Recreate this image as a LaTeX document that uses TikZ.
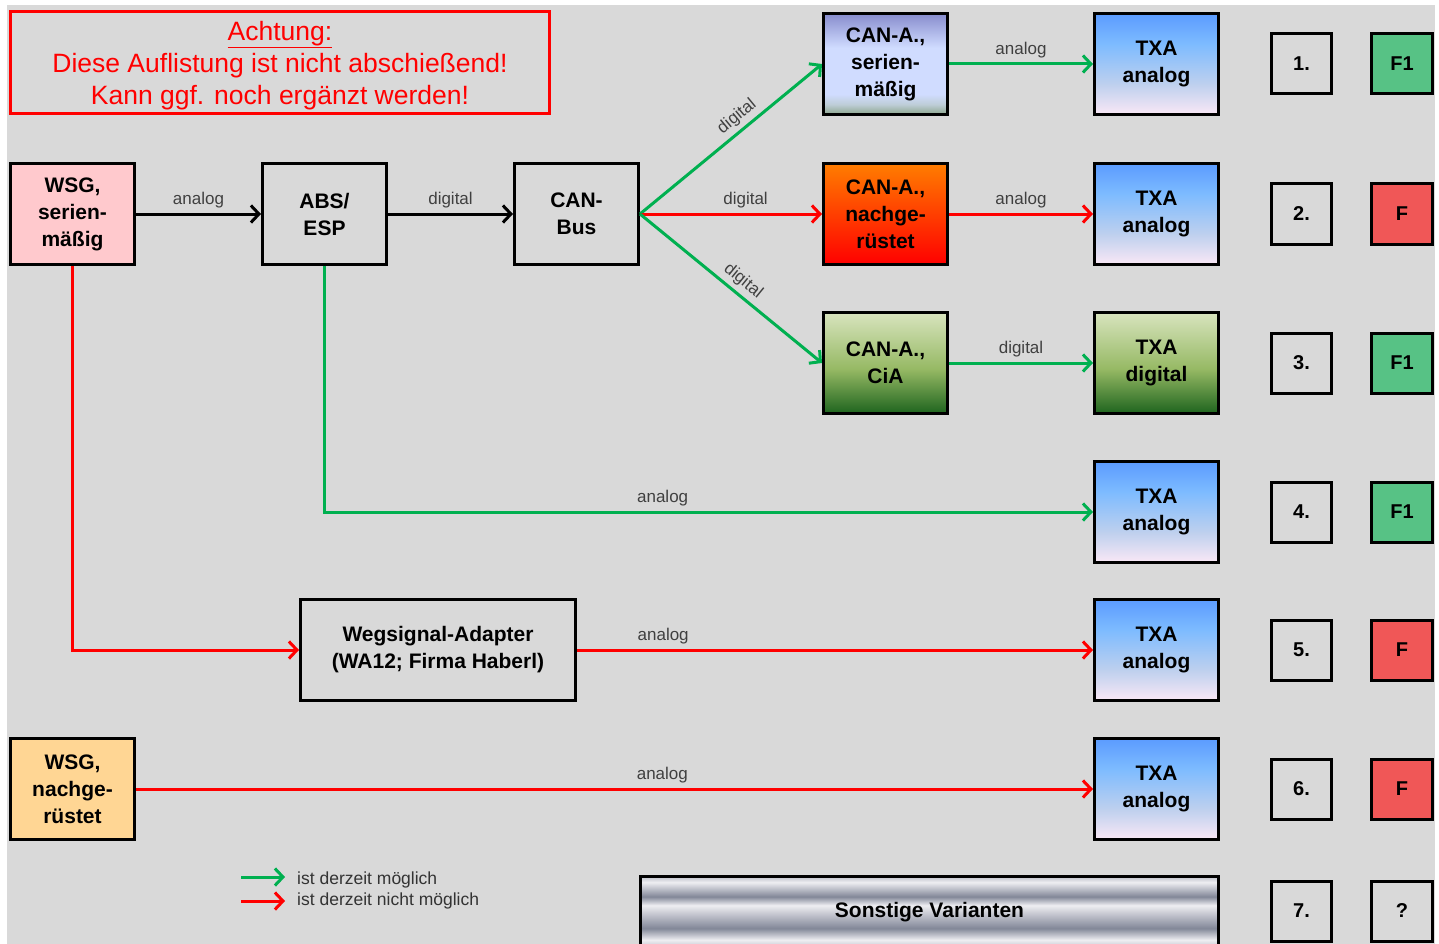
\documentclass[tikz,border=0pt]{standalone}
\usepackage{fontspec}
\setmainfont{Liberation Sans}
\usetikzlibrary{positioning,arrows.meta,calc}

\definecolor{bgGray}{RGB}{217,217,217}
\definecolor{okGreen}{RGB}{0,176,80}
\definecolor{noRed}{RGB}{255,0,0}
\definecolor{labelGray}{RGB}{64,64,64}
\definecolor{wsgPink}{RGB}{255,201,205}
\definecolor{wsgOrange}{RGB}{255,214,148}
\definecolor{fGreen}{RGB}{87,194,133}
\definecolor{fRed}{RGB}{240,87,87}

% shading colours
\definecolor{txaTop}{RGB}{91,155,255}
\definecolor{txaMid}{RGB}{125,187,255}
\definecolor{txaLow}{RGB}{190,208,238}
\definecolor{txaBot}{RGB}{250,232,246}
\definecolor{serTop}{RGB}{135,140,205}
\definecolor{serMid}{RGB}{208,220,255}
\definecolor{serLow}{RGB}{190,205,215}
\definecolor{serBot}{RGB}{140,165,140}
\definecolor{nachTop}{RGB}{255,125,0}
\definecolor{nachBot}{RGB}{255,0,0}
\definecolor{ciaTop}{RGB}{216,228,190}
\definecolor{ciaMid}{RGB}{150,185,100}
\definecolor{ciaBot}{RGB}{30,100,30}
\definecolor{metLight}{RGB}{238,238,242}
\definecolor{metMid}{RGB}{190,192,202}
\definecolor{metDark}{RGB}{130,135,152}

\pgfdeclareverticalshading{txaShade}{100bp}{color(0bp)=(txaBot); color(25bp)=(txaBot); color(40bp)=(txaLow); color(60bp)=(txaMid); color(75bp)=(txaTop); color(100bp)=(txaTop)}
\pgfdeclareverticalshading{serShade}{100bp}{color(0bp)=(serBot); color(25bp)=(serBot); color(30bp)=(serLow); color(35bp)=(serMid); color(58bp)=(serMid); color(75bp)=(serTop); color(100bp)=(serTop)}
\pgfdeclareverticalshading{nachShade}{100bp}{color(0bp)=(nachBot); color(25bp)=(nachBot); color(75bp)=(nachTop); color(100bp)=(nachTop)}
\pgfdeclareverticalshading{ciaShade}{100bp}{color(0bp)=(ciaBot); color(25bp)=(ciaBot); color(47bp)=(ciaMid); color(75bp)=(ciaTop); color(100bp)=(ciaTop)}
\pgfdeclareverticalshading{metalShade}{100bp}{color(0bp)=(metMid); color(25bp)=(metMid); color(31bp)=(metLight); color(39bp)=(metDark); color(48bp)=(metMid); color(55bp)=(metLight); color(61bp)=(metDark); color(71bp)=(metLight); color(75bp)=(metMid); color(100bp)=(metMid)}

\begin{document}
\begin{tikzpicture}[
    x=1pt, y=-1pt,
    baseBox/.style={rectangle, draw=black, line width=3pt, minimum width=124pt, minimum height=101pt, inner sep=0pt, align=center, font=\fontsize{21}{27}\selectfont\bfseries, text=black},
    plainBox/.style={baseBox, fill=bgGray},
    txaBox/.style={baseBox, shading=txaShade},
    numBox/.style={rectangle, draw=black, line width=3pt, fill=bgGray, minimum size=60pt, inner sep=0pt, font=\fontsize{20}{24}\selectfont\bfseries},
    warnBox/.style={rectangle, draw=noRed, line width=3.5pt, fill=bgGray, minimum width=539pt, minimum height=102pt, align=center, font=\fontsize{26.5}{32}\selectfont, text=noRed},
    edgeLabel/.style={font=\fontsize{17}{20}\selectfont, text=labelGray, inner sep=4pt},
    legendText/.style={font=\fontsize{17.5}{20}\selectfont, text=black!80, anchor=west, inner sep=0pt},
    blackArrow/.style={-{Straight Barb[length=8pt,width=17pt]}, line width=3pt, draw=black},
    okArrow/.style={-{Straight Barb[length=8pt,width=17pt]}, line width=3pt, draw=okGreen},
    noArrow/.style={-{Straight Barb[length=8pt,width=17pt]}, line width=3pt, draw=noRed}
]

\useasboundingbox (0,0) rectangle (1439,944);
\fill[bgGray] (7,5) rectangle (1435,944);

% ================= WARNING =================
\node[warnBox] (warn) at (280,62.5) {\rule{0pt}{25pt}\underline{Achtung:}\\Diese Auflistung ist nicht abschießend!\\Kann ggf. noch ergänzt werden!};

% ================= SOURCE CHAIN =================
\node[plainBox, fill=wsgPink] (wsg) at (72.5,214) {WSG,\\serien-\\mäßig};
\node[plainBox, right=125pt of wsg] (abs) {ABS/\\ESP};
\node[plainBox, right=125pt of abs] (canbus) {CAN-\\Bus};

% ================= CAN ADAPTERS =================
\node[baseBox, shading=nachShade, right=182pt of canbus] (canNach) {CAN-A.,\\nachge-\\rüstet};
\node[baseBox, shading=serShade, above=46pt of canNach] (canSer) {CAN-A.,\\serien-\\mäßig};
\node[baseBox, shading=ciaShade, below=45pt of canNach] (canCia) {CAN-A.,\\CiA};

% ================= TXA COLUMN =================
\node[txaBox, right=144pt of canSer] (txa1) {TXA\\analog};
\node[txaBox, right=144pt of canNach] (txa2) {TXA\\analog};
\node[baseBox, shading=ciaShade, right=144pt of canCia] (txa3) {TXA\\digital};
\node[txaBox, below=45pt of txa3] (txa4) {TXA\\analog};
\node[txaBox, below=34pt of txa4] (txa5) {TXA\\analog};
\node[txaBox, below=35pt of txa5] (txa6) {TXA\\analog};

% ================= LOWER SOURCES =================
\node[plainBox, minimum width=275pt, left=516pt of txa5] (wega) {Wegsignal-Adapter\\(WA12; Firma Haberl)};
\node[plainBox, fill=wsgOrange, left=957pt of txa6] (wsgNach) {WSG,\\nachge-\\rüstet};

% ================= NUMBERS / RESULTS =================
\node[numBox, right=50pt of txa1] (num1) {1.};
\node[numBox, right=50pt of txa2] (num2) {2.};
\node[numBox, right=50pt of txa3] (num3) {3.};
\node[numBox, right=50pt of txa4] (num4) {4.};
\node[numBox, right=50pt of txa5] (num5) {5.};
\node[numBox, right=50pt of txa6] (num6) {6.};
\node[numBox, below=59pt of num6] (num7) {7.};

\node[numBox, fill=fGreen, minimum width=61pt, right=37pt of num1] (res1) {F1};
\node[numBox, fill=fRed, minimum width=61pt, right=37pt of num2] (res2) {F};
\node[numBox, fill=fGreen, minimum width=61pt, right=37pt of num3] (res3) {F1};
\node[numBox, fill=fGreen, minimum width=61pt, right=37pt of num4] (res4) {F1};
\node[numBox, fill=fRed, minimum width=61pt, right=37pt of num5] (res5) {F};
\node[numBox, fill=fRed, minimum width=61pt, right=37pt of num6] (res6) {F};
\node[numBox, minimum width=61pt, right=37pt of num7] (res7) {?};

\node[baseBox, shading=metalShade, minimum width=578pt, minimum height=72pt, left=50pt of num7, yshift=-1.5pt] (sonst) {Sonstige Varianten};

% ================= CONNECTIONS =================
\draw[blackArrow] (wsg) -- node[edgeLabel, above] {analog} (abs);
\draw[blackArrow] (abs) -- node[edgeLabel, above] {digital} (canbus);
\draw[okArrow] (canbus.east) -- node[edgeLabel, sloped, above, pos=0.58] {digital} (canSer.west);
\draw[noArrow] (canbus.east) -- node[edgeLabel, above, pos=0.58] {digital} (canNach.west);
\draw[okArrow] (canbus.east) -- node[edgeLabel, sloped, above, pos=0.52] {digital} (canCia.west);
\draw[okArrow] (canSer) -- node[edgeLabel, above] {analog} (txa1);
\draw[noArrow] (canNach) -- node[edgeLabel, above] {analog} (txa2);
\draw[okArrow] (canCia) -- node[edgeLabel, above] {digital} (txa3);
\draw[okArrow] (abs.south) |- node[edgeLabel, above, pos=0.72] {analog} (txa4.west);
\draw[noArrow] (wsg.south) |- (wega.west);
\draw[noArrow] (wega) -- node[edgeLabel, above, pos=0.167] {analog} (txa5);
\draw[noArrow] (wsgNach) -- node[edgeLabel, above, pos=0.55] {analog} (txa6);

% ================= LEGEND =================
\node[legendText] (legOkText) at (297,880) {ist derzeit möglich};
\node[legendText] (legNoText) at (297,901) {ist derzeit nicht möglich};
\coordinate (legOkTip) at ([xshift=-12pt]legOkText.west |- 0,877);
\coordinate (legOkTail) at ([xshift=-56pt]legOkText.west |- 0,877);
\coordinate (legNoTip) at ([xshift=-12pt]legNoText.west |- 0,901);
\coordinate (legNoTail) at ([xshift=-56pt]legNoText.west |- 0,901);
\draw[okArrow] (legOkTail) -- (legOkTip);
\draw[noArrow] (legNoTail) -- (legNoTip);

\end{tikzpicture}
\end{document}
